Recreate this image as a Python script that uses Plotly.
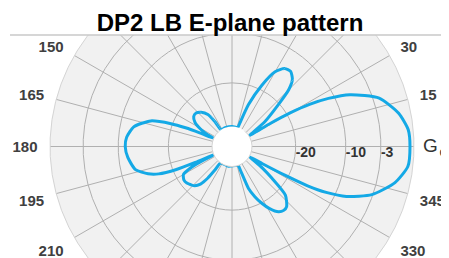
import math
import plotly.graph_objects as go

# ---------------- data ----------------
title_text = "DP2 LB E-plane pattern"
axis_label = "G\u200a<sub>dBi</sub>"

NULL_DB = -30.0  # deep nulls: below the plotted floor (hidden in the centre hole)

theta_deg = [
    0, 5.5, 11.3, 18.2, 23.7, 26.5, 28.5, 30, 31, 32,
    34, 37, 42, 45, 48, 52, 56, 60, 64, 68.5, 71.5, 73,
    90, 110,
    123, 124.5, 127, 132, 137, 142, 147, 151, 154, 156,
    157, 158, 159.5, 162.5, 168.7, 175, 180, 186, 193.5, 198, 200.5, 202.5, 203.5, 204.5,
    205.5, 207, 210, 215, 219, 223, 226.5, 230, 232.5, 234, 235.5,
    260,
    288, 289.5, 291.5, 294.5, 297.7, 301, 305.5, 309, 312.3, 317.7, 321.5, 324.5, 327, 329.5,
    330.5, 331.5, 332.5, 334, 336.4, 341, 347.5, 353.5, 360,
]
gain_dbi = [
    2.8, 2.6, 1.2, -1.8, -7.0, -11.2, -15.1, -19.3, -23.7, NULL_DB,
    -27.7, -24.5, -20.3, -16.7, -14.7, -13.7, -13.9, -15.5, -19.1, -23.7, -27.7, NULL_DB,
    NULL_DB, NULL_DB,
    NULL_DB, -26.7, -24.7, -23.5, -22.9, -23.0, -23.9, -25.5, -27.1, NULL_DB,
    -25.7, -22.7, -19.7, -15.7, -12.7, -11.6, -11.4, -11.8, -12.9, -15.1, -17.1, -20.7, -24.7, NULL_DB,
    -26.7, -23.7, -21.5, -21.0, -21.1, -21.5, -21.9, -22.9, -24.7, -26.9, NULL_DB,
    NULL_DB,
    NULL_DB, -27.7, -23.7, -21.7, -19.9, -18.3, -16.7, -16.3, -16.5, -18.3, -22.5, -25.1, -27.2, NULL_DB,
    -25.7, -20.7, -15.7, -11.8, -7.8, -3.2, 0.6, 2.6, 2.8,
]

radial_ticks = [-20, -10, -3]
radial_tick_labels = ["-20", "-10", "-3"]
# spokes every 15 degrees; only the labels that fall inside the window are written
angle_ticks = list(range(135, 406, 15))          # 135 ... 345, 360(=0) ... 405(=45)
visible_angle_labels = {150, 165, 180, 195, 210, 330, 345, 15, 30}
angle_tick_labels = [str(a % 360) if (a % 360) in visible_angle_labels else "" for a in angle_ticks]

# ---------------- layout geometry (px inside the figure) ----------------
W, H = 441, 340
CX, CY = 224.0, 138.5       # pole position
R_OUT = 182.0               # outer radius of the disc
HOLE_PX = 20.0
R_MIN, R_MAX = -28.7, 3.6   # radial range (dB)
px_per_db = (R_OUT - HOLE_PX) / (R_MAX - R_MIN)
BAND = 27.0                 # white title band height

# The disc is larger than the visible window: it is assembled from sectors that
# share the same pole and the same radial scale.
subplots = [
    # name, sector, radius(px), is main
    ("polar", [131.0, 409.0], R_OUT, True),
    ("polar2", [54.5, 125.5], 138.0, False),
    ("polar3", [47.5, 56.0], 160.0, False),
    ("polar4", [124.0, 132.5], 160.0, False),
]


def sector_bbox(sector):
    a0, a1 = sector
    angs = [a0, a1] + [a for a in range(-360, 1080, 90) if a0 <= a <= a1]
    xs = [math.cos(math.radians(a)) for a in angs] + [0.0]
    ys = [math.sin(math.radians(a)) for a in angs] + [0.0]
    return min(xs), min(ys), max(xs), max(ys)


FONT = "Liberation Sans, Arial, sans-serif"
BLUE = "#14a9e6"
GRID = "#b0b0b0"
DISC = "#f1f1f1"

fig = go.Figure()
layout_polars = {}
for name, sector, rad, is_main in subplots:
    x0, y0, x1, y1 = sector_bbox(sector)
    dom = dict(
        x=[(CX + rad * x0) / W, (CX + rad * x1) / W],
        y=[1 - (CY - rad * y0) / H, 1 - (CY - rad * y1) / H],
    )
    r_top = R_MIN + (rad - HOLE_PX) / px_per_db
    if is_main:
        ang = dict(tickmode="array", tickvals=angle_ticks, ticktext=angle_tick_labels,
                   showticklabels=True, showline=True)
    else:
        ang = dict(tickmode="linear", tick0=0, dtick=15, showticklabels=False, showline=False)
    layout_polars[name] = dict(
        domain=dom, sector=sector, hole=HOLE_PX / rad, bgcolor=DISC,
        angularaxis=dict(
            **ang,
            direction="counterclockwise", rotation=0,
            gridcolor=GRID, gridwidth=1,
            ticks="outside", ticklen=9, tickcolor="rgba(0,0,0,0)",
            tickfont=dict(family=FONT, size=15, color="#404040", weight="bold"),
            linecolor="#d4d4d4", linewidth=1,
        ),
        radialaxis=dict(
            tickmode="array", tickvals=radial_ticks, ticktext=radial_tick_labels,
            showticklabels=False, ticks="", showline=False,
            gridcolor=GRID, gridwidth=1,
            range=[R_MIN, r_top], angle=(sector[0] + sector[1]) / 2,
        ),
    )
    fig.add_trace(go.Scatterpolar(
        r=gain_dbi, theta=theta_deg, mode="lines",
        line=dict(color=BLUE, width=3, shape="spline", smoothing=0.6),
        subplot=name, showlegend=False, hoverinfo="skip",
    ))

fig.add_trace(go.Scatterpolar(
    r=radial_ticks, theta=[0] * len(radial_ticks), mode="text",
    text=radial_tick_labels, textposition="bottom right",
    textfont=dict(family=FONT, size=14, color="#333333", weight="bold"),
    subplot="polar", showlegend=False, hoverinfo="skip", cliponaxis=False,
))

fig.update_layout(
    width=W, height=H,
    margin=dict(l=0, r=0, t=0, b=0),
    paper_bgcolor="white",
    title=dict(
        text=title_text, x=222 / W, xanchor="center", xref="paper",
        y=1 - 15 / H, yanchor="middle", yref="container",
        font=dict(family=FONT, size=24, color="black", weight="bold"),
    ),
    shapes=[
        dict(type="rect", xref="paper", yref="paper", x0=0, x1=1,
             y0=1 - BAND / H, y1=1, fillcolor="white", line=dict(width=0), layer="above"),
        dict(type="line", xref="paper", yref="paper", x0=2 / W, x1=1,
             y0=1 - BAND / H, y1=1 - BAND / H, line=dict(color="#c8c8c8", width=1.5), layer="above"),
    ],
    annotations=[
        dict(text=axis_label, xref="paper", yref="paper", x=413 / W, y=1 - 139 / H,
             xanchor="left", yanchor="middle", showarrow=False,
             font=dict(family=FONT, size=19, color="#333333")),
    ],
    **layout_polars,
)

fig.write_html("out.html")
